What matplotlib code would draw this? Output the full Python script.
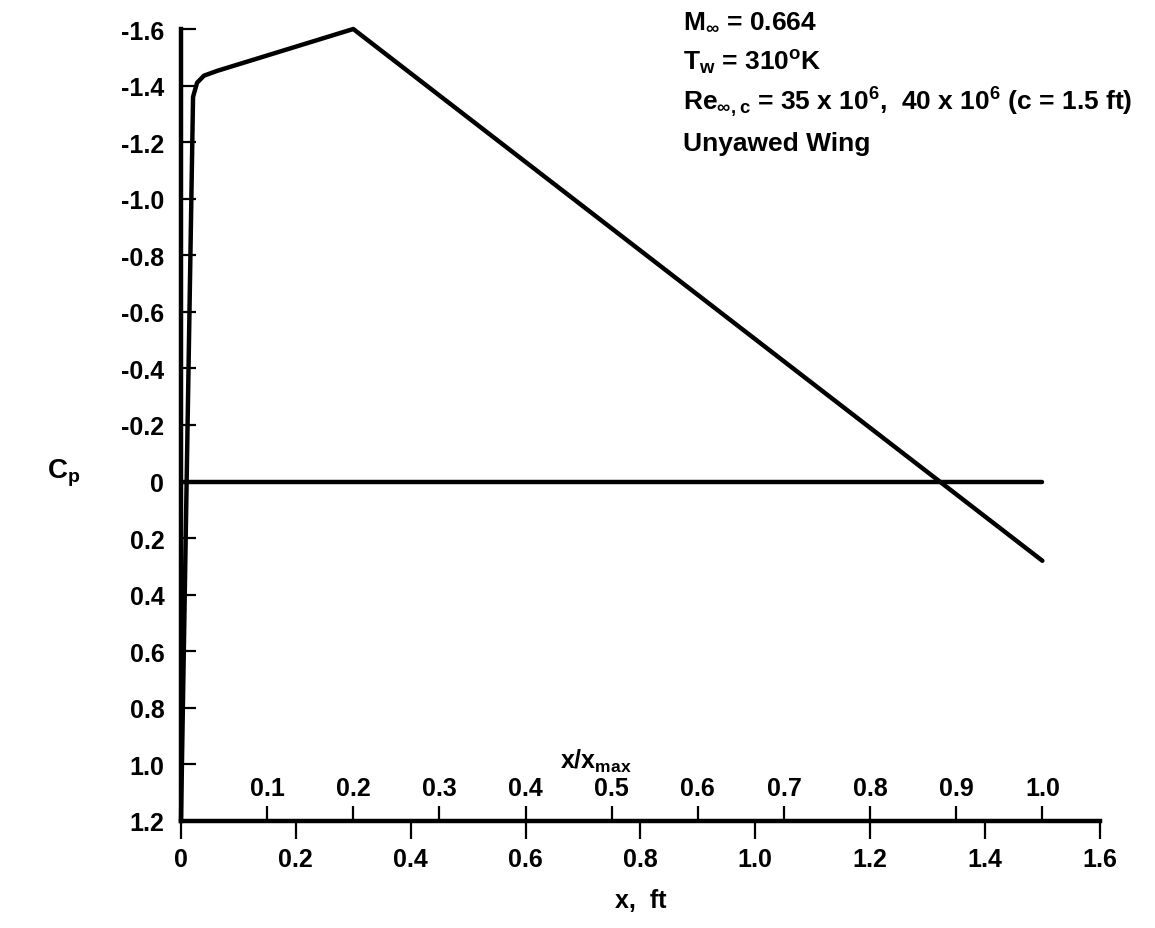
import matplotlib.pyplot as plt

plt.rcParams['font.family'] = ['Liberation Sans', 'DejaVu Sans']
plt.rcParams['font.weight'] = 'bold'
plt.rcParams['axes.labelweight'] = 'bold'
plt.rcParams['mathtext.default'] = 'regular'

# pressure distribution (x in ft, Cp)
x_ft = [0.0, 0.021, 0.028, 0.040, 0.063, 0.30, 1.50]
cp = [1.20, -1.36, -1.41, -1.435, -1.452, -1.60, 0.28]

# zero reference line
x_zero = [0.0, 1.5]
cp_zero = [0.0, 0.0]

x_max = 1.5
x_ticks = [0, 0.2, 0.4, 0.6, 0.8, 1.0, 1.2, 1.4, 1.6]
x_ticklabels = ['0', '0.2', '0.4', '0.6', '0.8', '1.0', '1.2', '1.4', '1.6']
xr_ticks = [0.1, 0.2, 0.3, 0.4, 0.5, 0.6, 0.7, 0.8, 0.9, 1.0]
y_ticks = [-1.6, -1.4, -1.2, -1.0, -0.8, -0.6, -0.4, -0.2, 0, 0.2, 0.4, 0.6, 0.8, 1.0, 1.2]
y_ticklabels = ['-1.6', '-1.4', '-1.2', '-1.0', '-0.8', '-0.6', '-0.4', '-0.2', '0',
                '0.2', '0.4', '0.6', '0.8', '1.0', '1.2']

fs = 18
fs_info = 19
lw = 3.2

fig = plt.figure(figsize=(11.55, 9.29), dpi=100)
ax = fig.add_axes([0.1567, 0.1152, 0.7955, 0.8525])

ax.plot(x_ft, cp, color='black', lw=lw, solid_joinstyle='round',
        solid_capstyle='round', clip_on=False)
ax.plot(x_zero, cp_zero, color='black', lw=lw, solid_capstyle='round')

ax.set_xlim(0, 1.6)
ax.set_ylim(1.2, -1.6)

for s in ['top', 'right']:
    ax.spines[s].set_visible(False)
for s in ['left', 'bottom']:
    ax.spines[s].set_linewidth(lw)

ax.set_xticks(x_ticks)
ax.set_xticklabels(x_ticklabels, fontsize=fs)
ax.set_yticks(y_ticks)
ax.set_yticklabels(y_ticklabels, fontsize=fs)
ax.tick_params(axis='x', direction='out', length=13, width=1.6, pad=6)
ax.tick_params(axis='y', direction='in', length=11, width=1.6, pad=12)

sec = ax.secondary_xaxis(0, functions=(lambda v: v / x_max, lambda v: v * x_max))
sec.set_alignment('top')
sec.spines['top'].set_visible(False)
sec.set_xticks(xr_ticks)
sec.set_xticklabels(['%.1f' % v for v in xr_ticks], fontsize=fs)
sec.tick_params(axis='x', direction='out', length=11, width=1.6, pad=4)

ax.text(0.66, 0.985, r'x/x$_{max}$', fontsize=fs, ha='left', va='center')
ax.set_xlabel('x,  ft', fontsize=fs, labelpad=12)
fig.text(0.055, 0.49, r'C$_p$', fontsize=20, ha='center', va='center')

info = [r'M$_\infty$ = 0.664',
        r'T$_w$ = 310$^o$K',
        r'Re$_{\infty,c}$ = 35 x 10$^6$,  40 x 10$^6$ (c = 1.5 ft)',
        'Unyawed Wing']
for i, t in enumerate(info):
    fig.text(0.591, 0.976 - i * 0.0435, t, fontsize=fs_info, ha='left', va='center')

fig.savefig('out.png', dpi=100)
